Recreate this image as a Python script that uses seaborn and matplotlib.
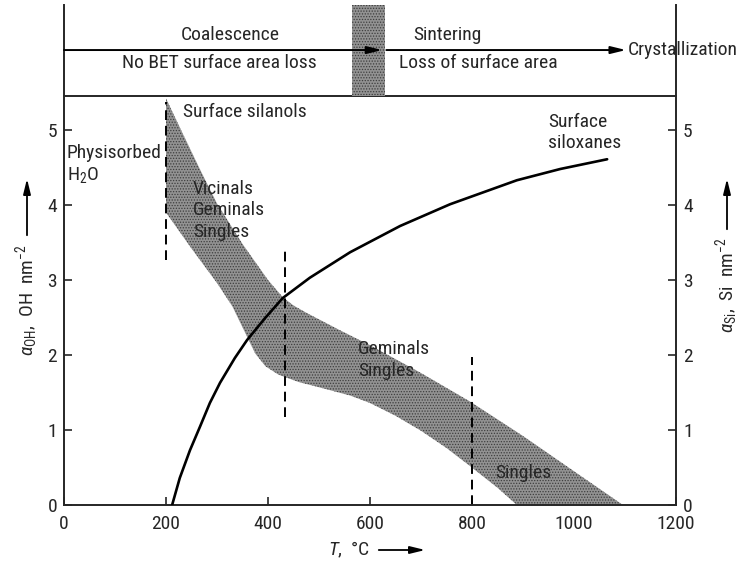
import matplotlib
matplotlib.use("Agg")
import matplotlib.pyplot as plt
from matplotlib import font_manager
from matplotlib.patches import FancyArrowPatch
import pandas as pd
import seaborn as sns

# ---------------- data ----------------
# shaded band of surface silanols (alpha_OH, OH nm^-2)
band_upper_T = [200, 233, 267, 300, 350, 400, 429, 450, 476, 541, 600, 700, 796, 900, 1000, 1096]
band_upper_a = [5.42, 4.95, 4.47, 4.02, 3.48, 3.00, 2.77, 2.66, 2.56, 2.33, 2.13, 1.76, 1.38, 0.92, 0.45, 0.0]
band_lower_T = [200, 250, 300, 330, 355, 375, 395, 420, 460, 500, 561, 600, 650, 700, 750, 796, 850, 888]
band_lower_a = [3.90, 3.42, 2.96, 2.65, 2.30, 2.02, 1.85, 1.74, 1.64, 1.57, 1.46, 1.36, 1.19, 0.99, 0.76, 0.52, 0.23, 0.0]

# surface siloxanes curve (alpha_Si, Si nm^-2)
silox_T = [212, 227, 247, 267, 286, 306, 335, 359, 394, 429, 482, 561, 659, 757, 888, 973, 1065]
silox_a = [0.0, 0.36, 0.73, 1.05, 1.36, 1.63, 1.96, 2.20, 2.49, 2.76, 3.03, 3.37, 3.72, 4.01, 4.33, 4.48, 4.61]

# dashed boundary lines: temperature, from, to
dash_T = [200, 433, 800]
dash_lo = [3.27, 1.17, 0.0]
dash_hi = [5.37, 3.45, 1.97]

x_ticks = [0, 200, 400, 600, 800, 1000, 1200]
y_ticks = [0, 1, 2, 3, 4, 5]
transition_zone = [565, 630]

# ---------------- style ----------------
sns.set_style("ticks")
names = {f.name for f in font_manager.fontManager.ttflist}
fam = "DejaVu Sans"
for cand in ["Roboto Condensed", "Liberation Sans Narrow", "Open Sans Condensed"]:
    if cand in names:
        fam = cand
        break
plt.rcParams["font.family"] = [fam, "DejaVu Sans"]
plt.rcParams["mathtext.fontset"] = "custom"
plt.rcParams["mathtext.rm"] = fam
plt.rcParams["mathtext.it"] = fam + ":italic"
plt.rcParams["mathtext.fallback"] = "cm"
FS = 14

W, H = 756, 563
L, R, B, T, TT = 64, 676, 505, 96, 5
fig = plt.figure(figsize=(W / 100, H / 100), dpi=100)
ax = fig.add_axes([L / W, (H - B) / H, (R - L) / W, (B - T) / H])
axt = fig.add_axes([L / W, (H - T) / H, (R - L) / W, (T - TT) / H])

band_face = "#929292"
band_hatch = "#3e3e3e"
plt.rcParams["hatch.linewidth"] = 0.6

# ---------------- main axes ----------------
poly_x = band_upper_T + band_lower_T[::-1]
poly_y = band_upper_a + band_lower_a[::-1]
ax.fill(poly_x, poly_y, facecolor=band_face, edgecolor=band_hatch, hatch="......",
        linewidth=0, zorder=1)

df = pd.DataFrame({"T": silox_T, "a": silox_a})
sns.lineplot(data=df, x="T", y="a", ax=ax, color="black", lw=1.9,
             sort=False, estimator=None, zorder=3)

for xt, lo, hi in zip(dash_T, dash_lo, dash_hi):
    ax.plot([xt, xt], [lo, hi], color="black", lw=1.4, ls=(0, (5, 3)), zorder=2)

ax.set_xlim(0, 1200)
ax.set_ylim(0, (B - T) / 75)
ax.set_xticks(x_ticks)
ax.set_xticklabels([str(v) for v in x_ticks])
ax.set_yticks(y_ticks)
ax.set_yticklabels([str(v) for v in y_ticks])
ax.tick_params(direction="in", length=6, width=1.2, labelsize=FS, pad=5,
               right=True, labelright=True, top=False)
ax.tick_params(axis="x", pad=7)
ax.set_xlabel("")
ax.set_ylabel("")
for s in ax.spines.values():
    s.set_linewidth(1.4)
    s.set_visible(True)

def txt(x, y, s, **kw):
    ax.text(x, y, s, fontsize=FS, ha="left", va="center", zorder=4, **kw)

txt(233, 5.24, "Surface silanols")
txt(5, 4.69, "Physisorbed")
txt(5, 4.40, r"H$_2$O")
txt(253, 4.21, "Vicinals")
txt(253, 3.93, "Geminals")
txt(253, 3.64, "Singles")
txt(576, 2.08, "Geminals")
txt(576, 1.79, "Singles")
txt(845, 0.43, "Singles")
txt(949, 5.11, "Surface")
txt(949, 4.83, "siloxanes")

# ---------------- top panel ----------------
axt.set_xlim(0, 1200)
axt.set_ylim(0, 1)
axt.axvspan(transition_zone[0], transition_zone[1], facecolor=band_face,
            edgecolor=band_hatch, hatch="......", linewidth=0, zorder=1)
axt.set_xticks([])
axt.set_yticks([])
axt.spines["top"].set_visible(False)
axt.spines["bottom"].set_visible(False)
axt.spines["left"].set_linewidth(1.4)
axt.spines["right"].set_linewidth(1.4)
axt.patch.set_alpha(0)

ya = 0.505
aprops = dict(arrowstyle="-|>,head_length=0.9,head_width=0.22", color="black",
              lw=1.4, shrinkA=0, shrinkB=0)
axt.annotate("", xy=(624, ya), xytext=(0, ya), arrowprops=aprops, zorder=3)
axt.annotate("", xy=(1102, ya), xytext=(632, ya), arrowprops=aprops, zorder=3)
axt.text(325, 0.67, "Coalescence", fontsize=FS, ha="center", va="center")
axt.text(684, 0.67, "Sintering", fontsize=FS, ha="left", va="center")
axt.text(1106, ya, "Crystallization", fontsize=FS, ha="left", va="center",
         clip_on=False)
axt.text(114, 0.36, "No BET surface area loss", fontsize=FS, ha="left", va="center")
axt.text(657, 0.36, "Loss of surface area", fontsize=FS, ha="left", va="center")

# ---------------- axis labels with arrows ----------------
def fx(px):
    return px / W

def fy(py):
    return 1 - py / H

fig.text(fx(27), fy(300), r"$\alpha_{\mathrm{OH}}$,  OH  nm$^{-2}$", rotation=90,
         ha="center", va="center", fontsize=FS)
fig.text(fx(727), fy(285), r"$\alpha_{\mathrm{Si}}$,  Si  nm$^{-2}$", rotation=90,
         ha="center", va="center", fontsize=FS)
fig.text(fx(349), fy(550), r"$T$,  °C", ha="center", va="center", fontsize=FS)

astyle = "-|>,head_length=0.9,head_width=0.22"
for p0, p1 in [((27, 238), (27, 176)), ((727, 232), (727, 176)), ((376, 550), (428, 550))]:
    fig.add_artist(FancyArrowPatch((fx(p0[0]), fy(p0[1])), (fx(p1[0]), fy(p1[1])),
                                   transform=fig.transFigure, arrowstyle=astyle,
                                   color="black", lw=1.3, mutation_scale=10))

fig.savefig("out.png", dpi=100)
